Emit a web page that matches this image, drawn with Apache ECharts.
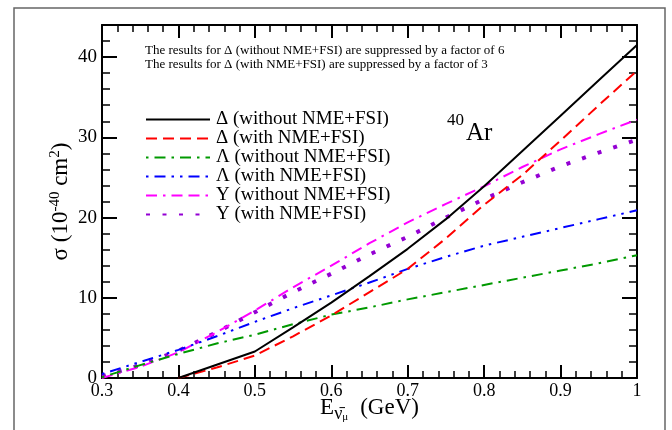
<!DOCTYPE html>
<html>
<head>
<meta charset="utf-8">
<script src="https://cdn.jsdelivr.net/npm/echarts@6/dist/echarts.min.js"></script>
<style>html,body{margin:0;padding:0;background:#fff;}#c{width:672px;height:430px;}</style>
</head>
<body>
<div id="c"></div>
<script>
// Energies (GeV)
const energies = [0.30,0.35,0.40,0.45,0.50,0.55,0.60,0.65,0.70,0.75,0.80,0.85,0.90,0.95,1.00];
// Cross sections (10^-40 cm^2)
const deltaWithout  = [null,null,0,1.65,3.3,6.3,9.4,12.7,16.1,19.8,23.9,28.3,32.7,37.1,41.5];
const deltaWith     = [null,null,0,1.3,2.8,5.2,7.8,10.7,13.6,17.4,21.6,25.3,29.6,34.0,38.3];
const lambdaWithout = [0.1,1.6,3.0,4.3,5.4,6.7,7.9,8.8,9.8,10.7,11.6,12.5,13.4,14.3,15.3];
const lambdaWith    = [0.5,2.0,3.5,5.2,7.0,8.7,10.3,11.9,13.6,15.1,16.5,17.6,18.7,19.8,20.9];
const sigmaWithout  = [0.0,1.4,3.2,5.7,8.4,11.3,14.0,16.8,19.4,21.7,23.9,26.3,28.5,30.4,32.2];
const sigmaWith     = [0.2,1.6,3.4,5.7,8.2,10.7,13.0,15.4,17.6,20.0,22.3,24.4,26.4,28.1,29.7];
const seriesNames = ['Δ (without NME+FSI)','Δ (with NME+FSI)','Λ (without NME+FSI)','Λ (with NME+FSI)','Y (without NME+FSI)','Y (with NME+FSI)'];
const noteLines = ['The results for Δ (without NME+FSI) are suppressed by a factor of 6',
                   'The results for Δ (with NME+FSI) are suppressed by a factor of 3'];

const FONT = '"Liberation Serif", "DejaVu Serif", serif';
function pairs(vals){ const out=[]; vals.forEach((v,i)=>{ if(v!==null) out.push([energies[i], v]); }); return out; }

const styles = [
  {color:'#000000', width:2, type:'solid'},
  {color:'#ff0000', width:2, type:[11,6]},
  {color:'#009900', width:2, type:[2.5,6,11,6]},
  {color:'#0000ff', width:2, type:[2.5,6,11,6,2.5,6]},
  {color:'#ff00ff', width:2, type:[11,6,2.5,6,11,6]},
  {color:'#9400d3', width:4, type:[4,12.5]}
];
const allVals = [deltaWithout, deltaWith, lambdaWithout, lambdaWith, sigmaWithout, sigmaWith];

const chart = echarts.init(document.getElementById('c'), null, {renderer:'canvas'});
const axisLineStyle = {color:'#000', width:2};
const xBase = {type:'value', min:0.3, max:1.0, interval:0.1, gridIndex:0,
  axisLine:{show:true, onZero:false, lineStyle:axisLineStyle},
  axisTick:{show:true, inside:true, length:13, lineStyle:{color:'#000', width:2}},
  minorTick:{show:true, splitNumber:5, length:7, lineStyle:{color:'#000', width:1.5}},
  splitLine:{show:false}, minorSplitLine:{show:false}};
const yMajor = {type:'value', min:0, max:44, interval:10,
  axisLine:{show:true, onZero:false, lineStyle:axisLineStyle},
  axisTick:{show:true, inside:true, length:15, lineStyle:{color:'#000', width:2}},
  splitLine:{show:false}};
const yMinor = {type:'value', min:0, max:44, interval:2,
  axisLine:{show:false},
  axisTick:{show:true, inside:true, length:8, lineStyle:{color:'#000', width:1.5}},
  axisLabel:{show:false}, splitLine:{show:false}};

chart.setOption({
  animation:false,
  backgroundColor:'#ffffff',
  grid:{left:102, top:25, right:35, bottom:52, containLabel:false, outerBoundsMode:'none'},
  xAxis:[
    Object.assign({}, xBase, {position:'bottom',
      axisLabel:{show:true, margin:4, color:'#000', fontFamily:FONT, fontSize:18,
        formatter:v=>String(+v.toFixed(1))},
      name:'E{sub|ν̄}{subsub|μ}{gap| }(GeV)', nameLocation:'middle', nameGap:15, nameMoveOverlap:false,
      nameTextStyle:{color:'#000', fontFamily:FONT, fontSize:23, lineHeight:30,
        rich:{
          sub:{fontFamily:FONT, fontSize:18, verticalAlign:'bottom', lineHeight:25, color:'#000'},
          subsub:{fontFamily:FONT, fontSize:11, verticalAlign:'bottom', lineHeight:6, color:'#000'},
          gap:{fontSize:23, width:12}
        }}}),
    Object.assign({}, xBase, {position:'top', axisLabel:{show:false}})
  ],
  yAxis:[
    Object.assign({}, yMajor, {position:'left',
      axisLabel:{show:true, margin:5, color:'#000', fontFamily:FONT, fontSize:19,
        formatter:v=> (v%10===0 ? String(v) : '')},
      name:'σ (10{sup|-40} cm{sup|2})', nameLocation:'middle', nameGap:28, nameRotate:90, nameMoveOverlap:false,
      nameTextStyle:{color:'#000', fontFamily:FONT, fontSize:23, lineHeight:26,
        rich:{ sup:{fontFamily:FONT, fontSize:15, verticalAlign:'top', lineHeight:12, color:'#000'} }}}),
    Object.assign({}, yMinor, {position:'left'}),
    Object.assign({}, yMajor, {position:'right', axisLabel:{show:false}}),
    Object.assign({}, yMinor, {position:'right'})
  ],
  legend:{
    orient:'vertical', left:140, top:105, itemGap:0, itemWidth:64, itemHeight:14,
    data:seriesNames,
    itemStyle:{opacity:0},
    textStyle:{color:'#000', fontFamily:FONT, fontSize:19, lineHeight:18, padding:[0,0,0,1]},
    selectedMode:false
  },
  series: allVals.map((vals,i)=>({
    name:seriesNames[i], type:'line', xAxisIndex:0, yAxisIndex:0,
    data:pairs(vals), showSymbol:false, symbol:'none', smooth:false,
    lineStyle:{color:styles[i].color, width:styles[i].width, type:styles[i].type, cap:'butt'},
    itemStyle:{color:styles[i].color},
    z: 10 - i
  })),
  graphic:[
    {type:'rect', shape:{x:14, y:8, width:651, height:440}, style:{fill:'none', stroke:'#666', lineWidth:1.5}, silent:true},
    {type:'text', left:145, top:43, style:{text:noteLines.join('\n'), fontFamily:FONT, fontSize:13, lineHeight:14.5, fill:'#000'}},
    {type:'text', left:447, top:112, style:{text:'40', fontFamily:FONT, fontSize:17, fill:'#000'}},
    {type:'text', left:466, top:121, style:{text:'Ar', fontFamily:FONT, fontSize:25, fill:'#000'}}
  ]
});
</script>
</body>
</html>
